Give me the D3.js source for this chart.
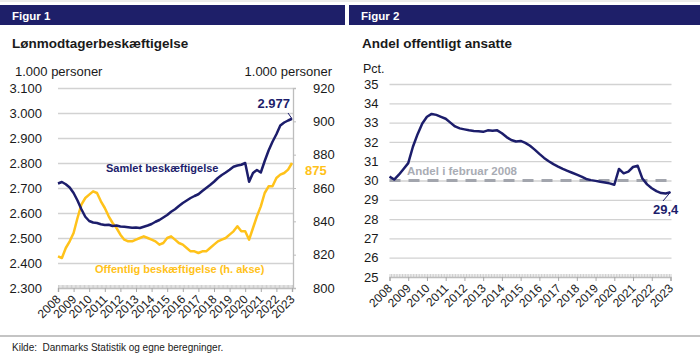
<!DOCTYPE html>
<html><head><meta charset="utf-8">
<script src="https://cdn.jsdelivr.net/npm/d3@7"></script>
<style>body{margin:0;background:#fff} svg{display:block;font-family:"Liberation Sans",Arial,sans-serif}</style>
</head><body><svg id="c" width="700" height="354"></svg>
<script>
// ---- data (quarterly, 2008Q1 .. 2023Q1) ----
const yearTicks = d3.range(2008, 2024);
const dates = d3.range(61).map(i => 2008 + i / 4);
const samlet = [2718,2724,2715,2702,2680,2650,2615,2585,2568,2562,2560,2555,2552,2553,2548,2550,
  2546,2545,2543,2541,2542,2540,2545,2550,2556,2565,2572,2582,2592,2605,2615,2628,
  2640,2650,2660,2668,2675,2688,2700,2712,2725,2740,2752,2762,2773,2785,2790,2793,
  2800,2725,2760,2772,2762,2808,2850,2885,2915,2950,2962,2970,2977];
const offentlig = [819,818,824,828,833,842,850,854,856,858,857,852,848,843,839,836,
  832,829,828,828,829,830,831,830,829,828,826,827,830,831,829,827,
  826,824,822,822,821,822,822,824,826,828,829,830,832,834,837,834,
  834,829,836,843,849,857,861,861,866,868,869,871,875];
const andel = [30.2,30.05,30.3,30.6,30.9,31.75,32.4,32.95,33.3,33.45,33.4,33.3,33.2,33.0,32.8,32.7,
  32.65,32.6,32.57,32.55,32.52,32.6,32.58,32.6,32.45,32.25,32.1,32.02,32.05,31.95,31.8,31.6,
  31.38,31.17,31.0,30.85,30.72,30.6,30.5,30.4,30.3,30.2,30.08,30.02,29.98,29.94,29.9,29.85,
  29.78,30.6,30.37,30.46,30.7,30.76,30.1,29.8,29.6,29.45,29.35,29.33,29.4];
const andelFeb2008 = 30.0;
const leftTicks = d3.range(2300, 3101, 100);
const rightTicks = d3.range(800, 921, 20);
const pctTicks = d3.range(25, 36, 1);

const NAVY = "#1c1d6b", YELLOW = "#ffc21a", GRID = "#d2d2d2", AXIS = "#bdbdbd", TXT = "#1a1a1a";
const fmt = d3.formatLocale({thousands: ".", decimal: ",", grouping: [3], currency: ["", ""]});
const fThou = fmt.format(",d"), fDec = fmt.format(".1f");

const svg = d3.select("#c");

// header bands
svg.append("line").attr("x1",0).attr("x2",700).attr("y1",1).attr("y2",1).attr("stroke","#d8d8d8");
[[0,345,"Figur 1"],[349,700,"Figur 2"]].forEach(([a,b,t]) => {
  svg.append("rect").attr("x",a).attr("y",5).attr("width",b-a).attr("height",20).attr("fill","#1e1f69");
  svg.append("text").attr("x",a+12).attr("y",20).attr("fill","#fff").attr("font-weight","bold").attr("font-size",11.5).text(t);
});
svg.append("text").attr("x",12).attr("y",48).attr("font-weight","bold").attr("font-size",13.5).attr("fill",TXT).text("Lønmodtagerbeskæftigelse");
svg.append("text").attr("x",362).attr("y",48).attr("font-weight","bold").attr("font-size",13.5).attr("fill",TXT).text("Andel offentligt ansatte");

// footer
svg.append("line").attr("x1",0).attr("x2",700).attr("y1",336).attr("y2",336).attr("stroke","#b0b0b0").attr("stroke-width",1.5);
svg.append("text").attr("x",12).attr("y",351).attr("font-size",10).attr("fill",TXT).attr("xml:space","preserve").text("Kilde:  Danmarks Statistik og egne beregninger.");

function xAxis(g, x, y0) {
  const months = d3.range(0, 181).map(i => 2008 + i / 12);
  g.append("g").attr("transform", `translate(0,${y0})`)
    .call(d3.axisTop(x).tickValues(months).tickSize(3).tickFormat(""))
    .call(s => { s.select(".domain").remove(); s.selectAll("line").attr("stroke", "#cfcfcf"); });
  const ax = g.append("g").attr("transform", `translate(0,${y0})`)
    .call(d3.axisBottom(x).tickValues(yearTicks).tickSize(4).tickFormat(d => d));
  ax.select(".domain").attr("stroke", AXIS).attr("stroke-width", 1.5);
  ax.selectAll("line").attr("stroke", "#a8a8a8");
  ax.selectAll("text").attr("font-size", 12).attr("fill", TXT)
    .attr("text-anchor", "end").attr("dy", null).attr("y", 0)
    .attr("transform", "translate(3,12) rotate(-45)");
}

// ---------- left chart ----------
{
  const x = d3.scaleLinear([2008, 2023], [58, 292]);
  const yL = d3.scaleLinear([2300, 3100], [288, 88]);
  const yR = d3.scaleLinear([800, 920], [288, 88]);
  const g = svg.append("g");
  const ya = g.append("g").attr("transform", "translate(58,0)")
    .call(d3.axisLeft(yL).tickValues(leftTicks).tickFormat(fThou).tickSize(-235).tickPadding(16));
  ya.select(".domain").remove();
  ya.selectAll("line").attr("stroke", d => d === 2300 ? "none" : GRID).attr("stroke-width", 1.3);
  ya.selectAll("text").attr("font-size", 13).attr("fill", TXT);
  const yr = g.append("g").attr("transform", "translate(293,0)")
    .call(d3.axisRight(yR).tickValues(rightTicks).tickSize(3).tickPadding(17));
  yr.select(".domain").attr("stroke", AXIS).attr("stroke-width", 1.3);
  yr.selectAll("line").attr("stroke", AXIS);
  yr.selectAll("text").attr("font-size", 13).attr("fill", TXT);
  xAxis(g, x, 288);
  g.append("text").attr("x",15).attr("y",76).attr("font-size",13).attr("fill",TXT).text("1.000 personer");
  g.append("text").attr("x",332).attr("y",76).attr("text-anchor","end").attr("font-size",13).attr("fill",TXT).text("1.000 personer");

  g.append("path").datum(dates.map((d,i)=>[d, offentlig[i]]))
    .attr("fill","none").attr("stroke",YELLOW).attr("stroke-width",2.5).attr("stroke-linejoin","round")
    .attr("d", d3.line().x(d=>x(d[0])).y(d=>yR(d[1])));
  g.append("path").datum(dates.map((d,i)=>[d, samlet[i]]))
    .attr("fill","none").attr("stroke",NAVY).attr("stroke-width",2.5).attr("stroke-linejoin","round")
    .attr("d", d3.line().x(d=>x(d[0])).y(d=>yL(d[1])));

  g.append("text").attr("x",106).attr("y",172).attr("font-size",11).attr("font-weight","bold").attr("fill",NAVY).text("Samlet beskæftigelse");
  g.append("text").attr("x",95).attr("y",273).attr("font-size",11).attr("font-weight","bold").attr("fill",YELLOW).text("Offentlig beskæftigelse (h. akse)");
  const lastS = samlet[samlet.length-1], lastO = offentlig[offentlig.length-1];
  g.append("text").attr("x",290).attr("y",108).attr("text-anchor","end").attr("font-size",13).attr("font-weight","bold").attr("fill",NAVY).text(fThou(lastS));
  g.append("line").attr("x1",288).attr("y1",113).attr("x2",x(2023)).attr("y2",yL(lastS)).attr("stroke",NAVY).attr("stroke-width",1);
  g.append("text").attr("x",305).attr("y",175).attr("font-size",13).attr("font-weight","bold").attr("fill",YELLOW).text(lastO);
}

// ---------- right chart ----------
{
  const x = d3.scaleLinear([2008, 2023], [389.5, 670.5]);
  const y = d3.scaleLinear([25, 35], [277, 84]);
  const g = svg.append("g");
  const ya = g.append("g").attr("transform", "translate(389.5,0)")
    .call(d3.axisLeft(y).tickValues(pctTicks).tickSize(-282).tickPadding(11));
  ya.select(".domain").remove();
  ya.selectAll("line").attr("stroke", d => d === 25 ? "none" : GRID).attr("stroke-width", 1.3);
  ya.selectAll("text").attr("font-size", 13).attr("fill", TXT);
  xAxis(g, x, 277);
  g.append("text").attr("x",363).attr("y",73).attr("font-size",12.5).attr("fill",TXT).text("Pct.");

  g.append("line").attr("x1",x(2008)).attr("x2",x(2023)).attr("y1",y(andelFeb2008)).attr("y2",y(andelFeb2008))
    .attr("stroke","#a2a5ad").attr("stroke-width",3).attr("stroke-dasharray","11,8");
  g.append("text").attr("x",407).attr("y",175).attr("font-size",11.5).attr("font-weight","bold").attr("fill","#a9acb4").text("Andel i februar 2008");

  g.append("path").datum(dates.map((d,i)=>[d, andel[i]]))
    .attr("fill","none").attr("stroke",NAVY).attr("stroke-width",2.5).attr("stroke-linejoin","round")
    .attr("d", d3.line().x(d=>x(d[0])).y(d=>y(d[1])));
  const last = andel[andel.length-1];
  g.append("line").attr("x1",663).attr("y1",201).attr("x2",x(2023)).attr("y2",y(last)).attr("stroke",NAVY).attr("stroke-width",1);
  g.append("text").attr("x",653).attr("y",214).attr("font-size",13).attr("font-weight","bold").attr("fill",NAVY).text(fDec(last));
}
</script></body></html>
